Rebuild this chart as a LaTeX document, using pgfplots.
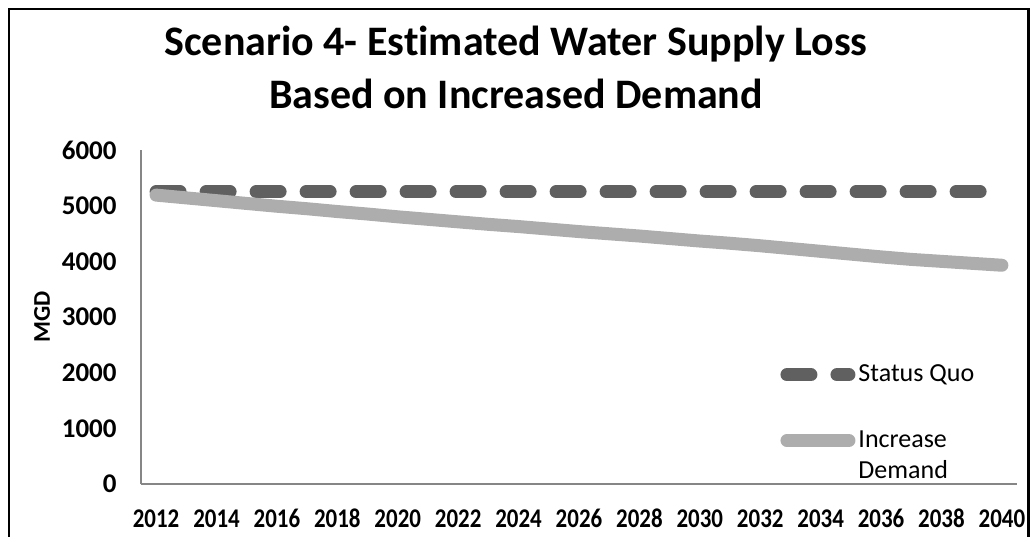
\documentclass[border=0pt]{standalone}
\usepackage{graphicx}
\usepackage{pgfplots}
\pgfplotsset{compat=1.18}
\usepackage{fontspec}
\setmainfont{Carlito}[Ligatures=NoCommon]
\definecolor{sqcol}{HTML}{606060}
\definecolor{idcol}{HTML}{ADADAD}
\definecolor{axgray}{HTML}{868686}
\pgfplotstableread{
year sq id
2012 5250 5190
2013 5250 5140
2014 5250 5090
2015 5250 5040
2016 5250 4990
2017 5250 4945
2018 5250 4895
2019 5250 4850
2020 5250 4800
2021 5250 4755
2022 5250 4710
2023 5250 4665
2024 5250 4625
2025 5250 4580
2026 5250 4535
2027 5250 4495
2028 5250 4455
2029 5250 4410
2030 5250 4365
2031 5250 4325
2032 5250 4280
2033 5250 4230
2034 5250 4180
2035 5250 4130
2036 5250 4080
2037 5250 4035
2038 5250 4000
2039 5250 3965
2040 5250 3930
}\datatable
\begin{document}
\begin{tikzpicture}
\useasboundingbox (0,0) rectangle (515.5pt,-268pt);
\draw[line width=1.2pt] (4.5pt,-270pt) -- (4.5pt,-4.5pt) -- (514.2pt,-4.5pt) -- (514.2pt,-270pt);
\node[anchor=base, font=\bfseries\fontsize{21}{25}\selectfont, inner sep=0pt] at (258pt,-27.5pt) {Scenario 4- Estimated Water Supply Loss};
\node[anchor=base, font=\bfseries\fontsize{21}{25}\selectfont, inner sep=0pt] at (258pt,-54pt) {Based on Increased Demand};
\begin{axis}[
  scale only axis, width=438pt, height=167pt,
  at={(70.5pt,-242pt)}, anchor=south west,
  xmin=2011.5, xmax=2040.5, ymin=0, ymax=6000,
  xtick={2012,2014,...,2040}, ytick={0,1000,...,6000},
  axis lines*=left,
  axis line style={axgray, line width=0.6pt},
  major tick length=0pt,
  tick label style={font=\bfseries\fontsize{13.5}{16}\selectfont},
  /pgf/number format/assume math mode=true,
  /pgf/number format/1000 sep={},
  xticklabel={\scalebox{0.85}[1]{\pgfmathprintnumber[assume math mode=true,1000 sep={}]{\tick}}},
  xticklabel style={inner sep=0pt, anchor=base, yshift=-21.5pt},
  yticklabel style={inner sep=0pt, anchor=east, xshift=-12pt},
  ylabel={MGD},
  every axis y label/.style={at={(rel axis cs:0,0.5)}, xshift=-49.5pt, rotate=90, anchor=center, font=\bfseries\fontsize{12}{14}\selectfont},
  clip=false,
  legend style={at={(0.7295,0.367)}, anchor=north west, draw=none, fill=none,
    font=\fontsize{13}{15.5}\selectfont, row sep=20pt, inner sep=0pt,
    nodes={inner sep=1.5pt}},
  legend cell align=left,
  legend image code/.code={\draw[#1] (0pt,0pt) -- (31pt,0pt);},
]
\addplot[sqcol, line width=6.5pt, dash pattern=on 12pt off 13pt, line cap=round] table[x=year, y=sq] {\datatable};
\addlegendentry{Status Quo}
\addplot[idcol, line width=6.5pt, line cap=round, line join=round] table[x=year, y=id] {\datatable};
\addlegendentry{\parbox[t]{60pt}{Increase\\Demand}}
\end{axis}
\end{tikzpicture}
\end{document}
